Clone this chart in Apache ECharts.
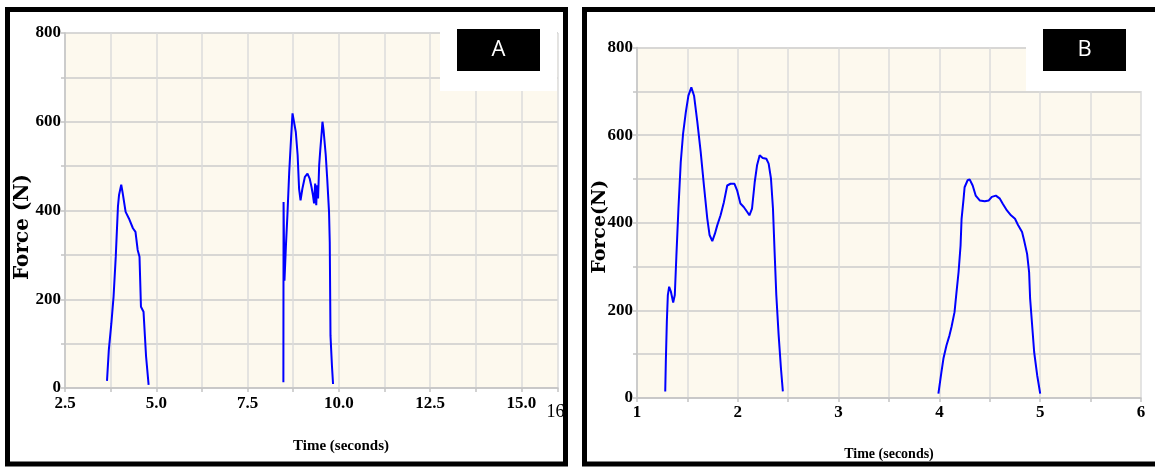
<!DOCTYPE html>
<html><head><meta charset="utf-8">
<script src="https://cdn.jsdelivr.net/npm/echarts@6/dist/echarts.min.js"></script>
<style>html,body{margin:0;padding:0;background:#fff}#c{width:1155px;height:468px}</style>
</head><body><div id="c"></div>
<script>
// ---- Panel A data ----
const aTime1 = [3.65, 3.70, 3.77, 3.83, 3.89, 3.95, 3.98, 4.04, 4.08, 4.16, 4.25, 4.36, 4.43, 4.49, 4.54, 4.58, 4.65, 4.72, 4.79];
const aForce1 = [16, 86, 146, 206, 296, 409, 435, 458, 439, 397, 382, 360, 352, 311, 296, 183, 172, 71, 7];
const aTime2 = [8.48, 8.485, 8.50, 8.51, 8.55, 8.59, 8.64, 8.69, 8.73, 8.77, 8.82, 8.87, 8.91, 8.95, 9.00, 9.07, 9.14, 9.20, 9.25, 9.29, 9.32, 9.35, 9.38, 9.40, 9.43, 9.46, 9.49, 9.53, 9.55, 9.58, 9.64, 9.68, 9.73, 9.75, 9.76, 9.77, 9.81, 9.84];
const aForce2 = [13, 419, 300, 242, 321, 389, 487, 562, 619, 621, 577, 525, 449, 423, 449, 476, 483, 472, 453, 434, 416, 461, 412, 457, 427, 502, 536, 577, 600, 581, 525, 472, 397, 329, 224, 118, 50, 9];
// ---- Panel B data ----
const bTime1 = [1.28, 1.286, 1.296, 1.306, 1.319, 1.336, 1.359, 1.375, 1.391, 1.411, 1.434, 1.457, 1.484, 1.51, 1.539, 1.566, 1.599, 1.632, 1.664, 1.697, 1.72, 1.747, 1.773, 1.796, 1.829, 1.862, 1.895, 1.928, 1.967, 1.993, 2.026, 2.059, 2.092, 2.115, 2.141, 2.168, 2.191, 2.217, 2.247, 2.283, 2.306, 2.329, 2.349, 2.365, 2.382, 2.405, 2.428, 2.447];
const bForce1 = [15, 83, 174, 235, 254, 243, 218, 235, 326, 432, 538, 603, 652, 690, 709, 690, 629, 561, 485, 410, 372, 358, 375, 394, 417, 447, 485, 489, 489, 474, 444, 436, 425, 417, 432, 493, 531, 554, 548, 546, 535, 501, 432, 334, 235, 144, 68, 15];
const bTime2 = [3.99, 4.02, 4.04, 4.07, 4.10, 4.12, 4.15, 4.17, 4.19, 4.21, 4.22, 4.24, 4.25, 4.28, 4.30, 4.33, 4.36, 4.40, 4.45, 4.49, 4.52, 4.56, 4.60, 4.63, 4.67, 4.71, 4.75, 4.78, 4.82, 4.84, 4.87, 4.89, 4.90, 4.92, 4.94, 4.97, 5.00];
const bForce2 = [10, 59, 90, 120, 143, 162, 196, 242, 287, 348, 409, 455, 481, 497, 499, 485, 462, 451, 449, 451, 459, 462, 455, 443, 428, 417, 409, 395, 379, 360, 329, 287, 227, 166, 105, 52, 10];
// ---- Tick labels / texts ----
const aXLabels = [2.5, 5, 7.5, 10, 12.5, 15];
const aXEndLabel = 16;
const bXLabels = [1, 2, 3, 4, 5, 6];
const yLabels = [0, 200, 400, 600, 800];
const panelNames = ['A', 'B'];
const xTitle = 'Time (seconds)';
const yTitleA = 'Force (N)';
const yTitleB = 'Force(N)';

const pairs = (t, f) => t.map((v, i) => [v, f[i]]);
const near = (arr, v) => arr.some(a => Math.abs(a - v) < 1e-6);
const SERIF = 'Liberation Serif';
const CREAM = '#fdf9ee';

function xAxisFor(idx, min, max, interval, fmt, margin, nameGap, fs, pad) {
  return {
    gridIndex: idx, type: 'value', min: min, max: max, interval: interval,
    axisLine: {show: true, onZero: false, lineStyle: {color: '#c4c4c4', width: 1.5}},
    axisTick: {show: true, length: 4, lineStyle: {color: '#c4c4c4', width: 1.5}},
    splitLine: {show: true, lineStyle: {color: '#dbdbdb', width: 1.5}},
    axisLabel: {showMinLabel: true, showMaxLabel: true, margin: margin, color: '#000',
      fontFamily: SERIF, fontWeight: 'bold', fontSize: 17, formatter: fmt,
      rich: {m: {fontFamily: SERIF, fontSize: 18, fontWeight: 'normal', color: '#000', padding: [8, 5, 0, 0]}}},
    name: xTitle, nameLocation: 'middle', nameGap: nameGap, nameMoveOverlap: false,
    nameTextStyle: {fontFamily: SERIF, fontWeight: 'bold', fontSize: fs, color: '#000', padding: pad}
  };
}
function yAxisFor(idx, name, nameGap, fs, pad) {
  return {
    gridIndex: idx, type: 'value', min: 0, max: 800, interval: 100,
    axisLine: {show: true, lineStyle: {color: '#c4c4c4', width: 1.5}},
    axisTick: {show: true, length: 4, lineStyle: {color: '#c4c4c4', width: 1.5}},
    splitLine: {show: true, lineStyle: {color: '#cbcbcb', width: 1.5}},
    axisLabel: {margin: 4, color: '#000', fontFamily: SERIF, fontWeight: 'bold', fontSize: 17,
      formatter: v => near(yLabels, v) ? String(v) : ''},
    name: name, nameLocation: 'middle', nameRotate: 90, nameGap: nameGap, nameMoveOverlap: false,
    nameTextStyle: {fontFamily: 'DejaVu Serif', fontWeight: 'bold', fontSize: fs, color: '#000', padding: pad}
  };
}
const lineSeries = (xi, data) => ({
  type: 'line', xAxisIndex: xi, yAxisIndex: xi, data: data, showSymbol: false,
  lineStyle: {color: '#0000ff', width: 2}, itemStyle: {color: '#0000ff'}, z: 5
});

const chart = echarts.init(document.getElementById('c'), null, {renderer: 'canvas'});
chart.setOption({
  animation: false,
  backgroundColor: '#ffffff',
  grid: [
    {left: 65, top: 33, width: 493, height: 355, show: true, backgroundColor: CREAM, borderWidth: 0},
    {left: 637, top: 47.5, width: 504, height: 350.5, show: true, backgroundColor: CREAM, borderWidth: 0}
  ],
  xAxis: [
    xAxisFor(0, 2.5, 16, 1.25, v => {
      if (Math.abs(v - aXEndLabel) < 1e-6) return '{m|' + aXEndLabel + '}';
      return near(aXLabels, v) ? v.toFixed(1) : '';
    }, 7, 51, 15, [0, 0, 0, 59]),
    xAxisFor(1, 1, 6, 0.5, v => near(bXLabels, v) ? String(v) : '', 6, 49, 14, [0, 0, 0, 0])
  ],
  yAxis: [
    yAxisFor(0, yTitleA, 32, 20, [0, 33, 0, 0]),
    yAxisFor(1, yTitleB, 27, 19, [0, 8, 0, 0])
  ],
  series: [
    lineSeries(0, pairs(aTime1, aForce1)),
    lineSeries(0, pairs(aTime2, aForce2)),
    lineSeries(1, pairs(bTime1, bForce1)),
    lineSeries(1, pairs(bTime2, bForce2))
  ],
  graphic: [
    {type: 'rect', z: 100, shape: {x: 440, y: 31, width: 117, height: 60}, style: {fill: '#fff'}},
    {type: 'rect', z: 100, shape: {x: 1026, y: 44, width: 116, height: 47}, style: {fill: '#fff'}},
    {type: 'rect', z: 101, shape: {x: 457, y: 29, width: 83, height: 42}, style: {fill: '#000'}},
    {type: 'rect', z: 101, shape: {x: 1043, y: 29, width: 83, height: 42}, style: {fill: '#000'}},
    {type: 'text', z: 102, x: 498.5, y: 50, style: {text: panelNames[0], fill: '#fff', font: '22px "Open Sans"', textAlign: 'center', textVerticalAlign: 'middle'}},
    {type: 'text', z: 102, x: 1084.5, y: 50, style: {text: panelNames[1], fill: '#fff', font: '22px "Open Sans"', textAlign: 'center', textVerticalAlign: 'middle'}},
    {type: 'rect', z: 103, shape: {x: 7.5, y: 9.5, width: 558, height: 454.5}, style: {fill: 'none', stroke: '#000', lineWidth: 5}},
    {type: 'rect', z: 103, shape: {x: 584.5, y: 9.5, width: 600, height: 454.5}, style: {fill: 'none', stroke: '#000', lineWidth: 5}}
  ]
});
</script></body></html>
